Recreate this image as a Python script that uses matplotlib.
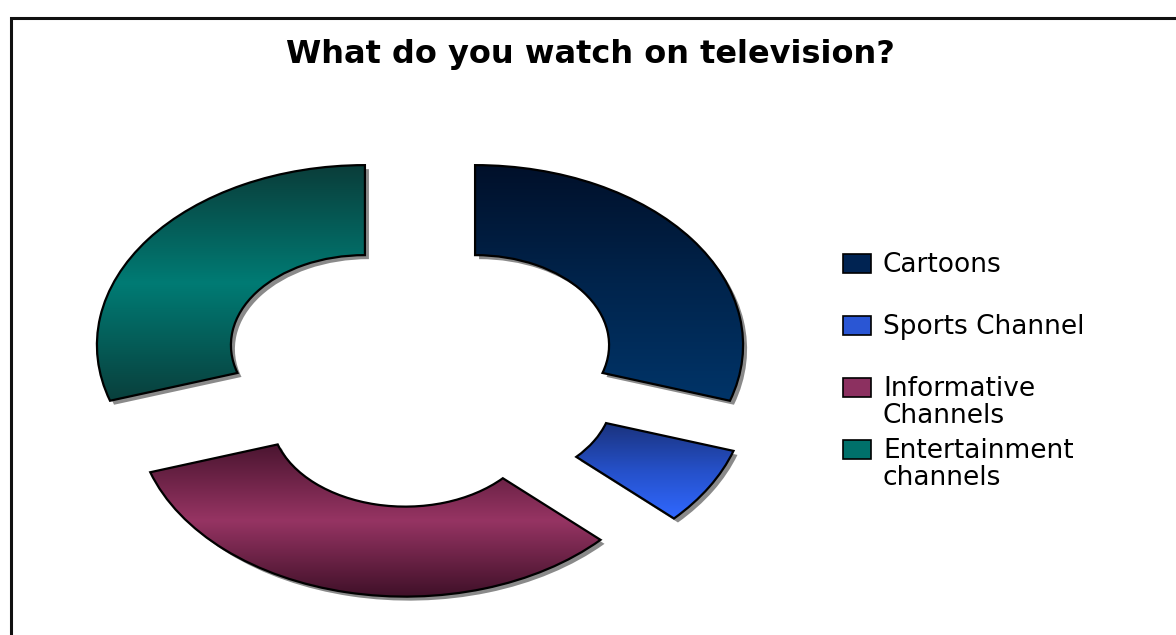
import numpy as np
import matplotlib
matplotlib.use("Agg")
import matplotlib.pyplot as plt
from matplotlib.patches import PathPatch, Rectangle
from matplotlib.colors import LinearSegmentedColormap
from matplotlib import transforms

title = "What do you watch on television?"
categories = ["Cartoons", "Sports Channel", "Informative\nChannels", "Entertainment\nchannels"]
shares = [30, 7, 33, 30]

# vertical gradient stops for each slice (top -> bottom)
gradients = [
    ["#00102a", "#00244c", "#003468"],
    ["#1a327c", "#2550c8", "#3068ff"],
    ["#4a1530", "#963463", "#3f1028"],
    ["#0a3d3a", "#007b74", "#093f3c"],
]
legend_colors = ["#002352", "#2a56d4", "#8c3060", "#00706a"]

W, H = 1176, 635
fig = plt.figure(figsize=(W / 100, H / 100), dpi=100)

# ring chart, stretched horizontally by the axes box
ax = fig.add_axes([18 / W, -7 / H, 804 / W, 540 / H])
wedges, _ = ax.pie(
    shares, startangle=90, counterclock=False, radius=1.0,
    explode=[0.254] * len(shares), frame=False,
    wedgeprops=dict(width=0.5, edgecolor="black", linewidth=1.6,
                    facecolor="none", zorder=3),
)

shadow_tr = transforms.offset_copy(ax.transData, fig=fig, x=4, y=-4, units="dots")
for w, stops in zip(wedges, gradients):
    path = w.get_path()
    ax.add_patch(PathPatch(path, transform=shadow_tr, facecolor="#8a8a8a",
                           edgecolor="none", zorder=1, clip_on=False))
    ext = path.get_extents()
    cmap = LinearSegmentedColormap.from_list("g", stops)
    grad = np.linspace(0, 1, 256).reshape(-1, 1)
    im = ax.imshow(grad, cmap=cmap, extent=(ext.x0, ext.x1, ext.y0, ext.y1),
                   origin="upper", aspect="auto", zorder=2,
                   interpolation="bilinear")
    im.set_clip_path(w)

ax.set_aspect("auto")
ax.set_xlim(-1.5, 1.5)
ax.set_ylim(-1.5, 1.5)
ax.axis("off")

# title
fig.text(590 / W, 1 - 55 / H, title, ha="center", va="center",
         fontsize=23, fontweight="bold", color="black")

# legend: one row every 62 px, marker beside the first text line
for i, (lab, col) in enumerate(zip(categories, legend_colors)):
    yc = 263 + 62 * i
    fig.patches.append(Rectangle((843 / W, 1 - (yc + 9.5) / H), 28 / W, 19 / H,
                                 transform=fig.transFigure, facecolor=col,
                                 edgecolor="black", linewidth=1.2))
    fig.text(883 / W, 1 - (yc - 11) / H, lab, ha="left", va="top",
             fontsize=19, color="black", linespacing=1.05)

# outer frame
fig.patches.append(Rectangle((11 / W, -0.1), 1.2, 1.1 - 18 / H,
                             transform=fig.transFigure, facecolor="none",
                             edgecolor="#111111", linewidth=2.2))

fig.savefig("out.png", dpi=100)
